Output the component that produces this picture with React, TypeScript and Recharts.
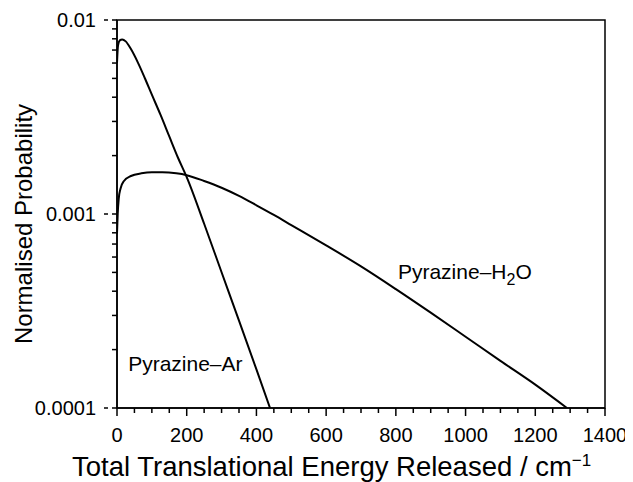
import {
  LineChart,
  Line,
  XAxis,
  YAxis,
  ReferenceArea,
  ReferenceDot,
} from "recharts";

const FONT = "'Liberation Sans', Arial, Helvetica, sans-serif";

// Pyrazine–Ar curve (energy in cm-1, normalised probability)
const arEnergy = [0, 3, 8, 15, 25, 40, 60, 80, 100, 125, 150, 175, 200, 250, 300, 350, 400, 439];
const arProb = [
  0.0060, 0.00741, 0.00785, 0.00794, 0.00776, 0.00708, 0.00603, 0.00501, 0.00412,
  0.00324, 0.00251, 0.00195, 0.00155, 0.000891, 0.000501, 0.000282, 0.000158, 0.0001,
];

// Pyrazine–H2O curve
const waterEnergy = [
  0, 2, 5, 10, 20, 40, 70, 100, 130, 170, 200, 250, 300, 350, 400, 450, 500, 600, 700,
  800, 900, 1000, 1100, 1200, 1291,
];
const waterProb = [
  0.000794, 0.001, 0.0012, 0.00135, 0.00148, 0.00157, 0.00162, 0.00164, 0.00164,
  0.00162, 0.001585, 0.001479, 0.001365, 0.001239, 0.001109, 0.000989, 0.000877,
  0.000689, 0.000537, 0.00041, 0.00031, 0.000233, 0.000175, 0.000132, 0.0001,
];

const xTicks = [
  0, 50, 100, 150, 200, 250, 300, 350, 400, 450, 500, 550, 600, 650, 700, 750, 800,
  850, 900, 950, 1000, 1050, 1100, 1150, 1200, 1250, 1300, 1350, 1400,
];
const xLabels = [0, 200, 400, 600, 800, 1000, 1200, 1400];

const yTicks = [
  0.0001, 0.0002, 0.0003, 0.0004, 0.0005, 0.0006, 0.0007, 0.0008, 0.0009,
  0.001, 0.002, 0.003, 0.004, 0.005, 0.006, 0.007, 0.008, 0.009, 0.01,
];
const yLabels = [0.0001, 0.001, 0.01];
const yLabelText = ["0.0001", "0.001", "0.01"];

const arData = arEnergy.map((e, i) => ({ e, p: arProb[i] }));
const waterData = waterEnergy.map((e, i) => ({ e, p: waterProb[i] }));

// tick text only; the tick marks come from the axis itself
function XTick({ x, y, payload }: any) {
  if (!xLabels.includes(payload.value)) return <g />;
  return (
    <g>
      <line x1={x} y1={y - 8} x2={x} y2={y - 5} stroke="#000" strokeWidth={1.5} />
      <text x={x} y={y + 21} textAnchor="middle" fontSize={20} fontFamily={FONT} fill="#000">
        {payload.value}
      </text>
    </g>
  );
}

function YTick({ x, y, payload }: any) {
  const idx = yLabels.indexOf(payload.value);
  if (idx < 0) return <g />;
  return (
    <g>
      <line x1={x + 8} y1={y} x2={x + 4} y2={y} stroke="#000" strokeWidth={1.5} />
      <text x={x - 4} y={y + 7} textAnchor="end" fontSize={20} fontFamily={FONT} fill="#000">
        {yLabelText[idx]}
      </text>
    </g>
  );
}

function XTitle({ viewBox }: any) {
  const { x, y } = viewBox;
  return (
    <text x={x - 45} y={y + 68} fontSize={27.5} fontFamily={FONT} fill="#000">
      Total Translational Energy Released / cm
      <tspan dy={-10} fontSize={17}>−1</tspan>
    </text>
  );
}

function YTitle({ viewBox }: any) {
  const { y, height } = viewBox;
  const cx = 24;
  const cy = y + height / 2 + 10;
  return (
    <text
      x={cx}
      y={cy}
      transform={`rotate(-90, ${cx}, ${cy})`}
      textAnchor="middle"
      fontSize={24}
      fontFamily={FONT}
      fill="#000"
    >
      Normalised Probability
    </text>
  );
}

function ArLabel({ viewBox }: any) {
  return (
    <text x={viewBox.x} y={viewBox.y + 7} fontSize={21} fontFamily={FONT} fill="#000">
      Pyrazine–Ar
    </text>
  );
}

function WaterLabel({ viewBox }: any) {
  return (
    <text x={viewBox.x} y={viewBox.y + 7} fontSize={21} fontFamily={FONT} fill="#000">
      Pyrazine–H
      <tspan dy={6} fontSize={16}>2</tspan>
      <tspan dy={-6}>O</tspan>
    </text>
  );
}

export default function App() {
  return (
    <div style={{ width: 625, height: 474 }}>
      <LineChart
        width={625}
        height={474}
        margin={{ top: 12, right: 28, bottom: 44, left: 0 }}
      >
        <XAxis
          type="number"
          dataKey="e"
          domain={[0, 1400]}
          ticks={xTicks}
          interval={0}
          tickSize={5}
          tickMargin={8}
          tickLine={{ stroke: "#000", strokeWidth: 1.5 }}
          tick={<XTick />}
          axisLine={{ stroke: "#000", strokeWidth: 1.5 }}
          allowDataOverflow
          label={{ content: <XTitle /> }}
        />
        <YAxis
          type="number"
          scale="log"
          domain={[0.0001, 0.01]}
          ticks={yTicks}
          interval={0}
          width={109}
          tickSize={5}
          tickMargin={12}
          tickLine={{ stroke: "#000", strokeWidth: 1.5 }}
          tick={<YTick />}
          axisLine={{ stroke: "#000", strokeWidth: 1.5 }}
          allowDataOverflow
          label={{ content: <YTitle /> }}
        />
        <ReferenceArea
          x1={0}
          x2={1400}
          y1={0.0001}
          y2={0.01}
          fill="none"
          stroke="#000"
          strokeWidth={1.5}
          fillOpacity={0}
        />
        <Line
          data={arData}
          dataKey="p"
          type="monotone"
          stroke="#000"
          strokeWidth={2}
          dot={false}
          isAnimationActive={false}
        />
        <Line
          data={waterData}
          dataKey="p"
          type="monotone"
          stroke="#000"
          strokeWidth={2}
          dot={false}
          isAnimationActive={false}
        />
        <ReferenceDot x={32} y={0.000169} r={0} fill="none" stroke="none" label={{ content: <ArLabel /> }} />
        <ReferenceDot x={806} y={0.000502} r={0} fill="none" stroke="none" label={{ content: <WaterLabel /> }} />
      </LineChart>
    </div>
  );
}
